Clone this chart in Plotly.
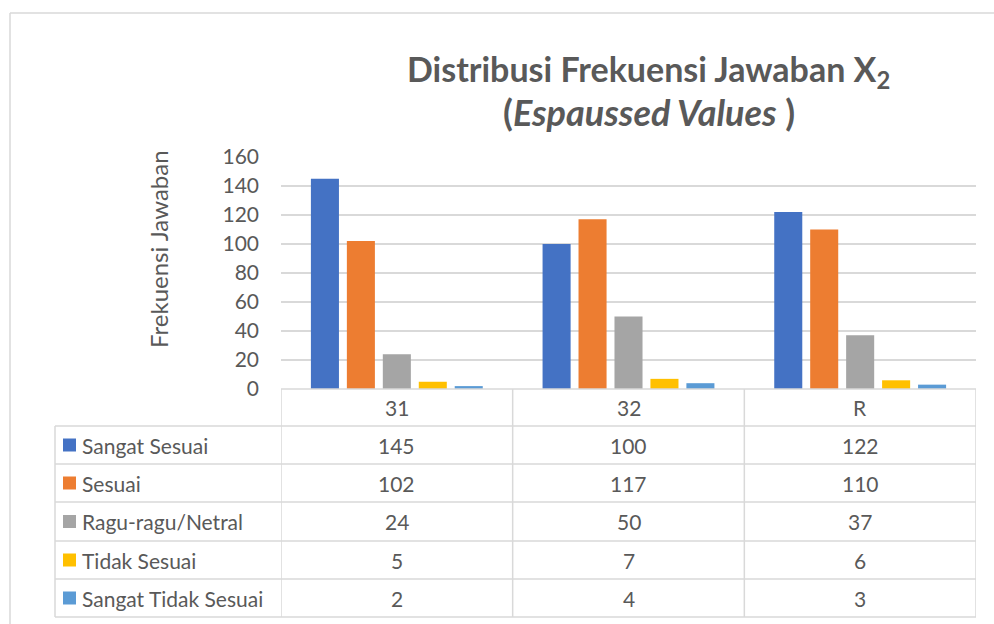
import plotly.graph_objects as go

categories = ["31", "32", "R"]
series_names = ["Sangat Sesuai", "Sesuai", "Ragu-ragu/Netral", "Tidak Sesuai", "Sangat Tidak Sesuai"]
sangat_sesuai = [145, 100, 122]
sesuai = [102, 117, 110]
ragu = [24, 50, 37]
tidak_sesuai = [5, 7, 6]
sangat_tidak_sesuai = [2, 4, 3]
series_values = [sangat_sesuai, sesuai, ragu, tidak_sesuai, sangat_tidak_sesuai]
colors = ["#4472C4", "#ED7D31", "#A5A5A5", "#FFC000", "#5B9BD5"]
y_ticks = [0, 20, 40, 60, 80, 100, 120, 140, 160]

W, H = 994, 624
L, R, T, B = 281, 976, 157, 389  # plot area in pixels
FONT = "Lato"
TXT = "#595959"
GRID = "#D9D9D9"


def px(x):
    return (x - L) / (R - L)


def py(y):
    return (B - y) / (B - T)


fig = go.Figure()
for name, vals, c in zip(series_names, series_values, colors):
    fig.add_trace(go.Bar(x=categories, y=vals, name=name, marker=dict(color=c, line=dict(width=0))))

shapes = []
annotations = []

# outer chart border (top and left visible)
shapes.append(dict(type="line", xref="paper", yref="paper", x0=px(10), x1=px(1000), y0=py(13), y1=py(13),
                   line=dict(color=GRID, width=1.5), layer="below"))
shapes.append(dict(type="line", xref="paper", yref="paper", x0=px(10), x1=px(10), y0=py(13), y1=py(700),
                   line=dict(color=GRID, width=1.5), layer="below"))

# table
row_bounds = [389, 426, 464, 502, 541, 579, 617]
shapes.append(dict(type="line", xref="paper", yref="paper", x0=0, x1=1, y0=py(389), y1=py(389),
                   line=dict(color=GRID, width=1.5)))
for yb in row_bounds[1:]:
    shapes.append(dict(type="line", xref="paper", yref="paper", x0=px(55), x1=1, y0=py(yb), y1=py(yb),
                       line=dict(color=GRID, width=1.5)))
for i in range(len(categories) + 1):
    shapes.append(dict(type="line", xref="x", yref="paper", x0=i - 0.5, x1=i - 0.5, y0=py(389),
                       y1=py(row_bounds[-1]), line=dict(color=GRID, width=1.5)))
shapes.append(dict(type="line", xref="paper", yref="paper", x0=px(55), x1=px(55), y0=py(426),
                   y1=py(row_bounds[-1]), line=dict(color=GRID, width=1.5)))

TFS = 21
hc = (row_bounds[0] + row_bounds[1]) / 2
for i, cat in enumerate(categories):
    annotations.append(dict(x=i, xref="x", y=py(hc), yref="paper", text=cat, showarrow=False,
                            font=dict(family=FONT, size=TFS, color=TXT), xanchor="center", yanchor="middle"))
for r, (name, vals, c) in enumerate(zip(series_names, series_values, colors)):
    yc = (row_bounds[r + 1] + row_bounds[r + 2]) / 2
    shapes.append(dict(type="rect", xref="paper", yref="paper", x0=px(63), x1=px(76), y0=py(yc - 6.5),
                       y1=py(yc + 6.5), fillcolor=c, line=dict(width=0)))
    annotations.append(dict(x=px(80), xref="paper", y=py(yc), yref="paper", text=name, showarrow=False,
                            font=dict(family=FONT, size=TFS, color=TXT), xanchor="left", yanchor="middle"))
    for i, v in enumerate(vals):
        annotations.append(dict(x=i, xref="x", y=py(yc), yref="paper", text=str(v), showarrow=False,
                                font=dict(family=FONT, size=TFS, color=TXT), xanchor="center", yanchor="middle"))

# title
annotations.append(dict(x=px(648), xref="paper", y=py(71), yref="paper",
                        text="<b>Distribusi Frekuensi Jawaban X<sub>2</sub></b>", showarrow=False,
                        font=dict(family=FONT, size=34, color=TXT), xanchor="center", yanchor="middle"))
annotations.append(dict(x=px(649), xref="paper", y=py(112), yref="paper",
                        text="<b>(<i>Espaussed Values</i> )</b>", showarrow=False,
                        font=dict(family=FONT, size=36, color=TXT), xanchor="center", yanchor="middle"))
# y-axis title
annotations.append(dict(x=px(158), xref="paper", y=py(249), yref="paper", text="Frekuensi Jawaban",
                        textangle=-90, showarrow=False, font=dict(family=FONT, size=24, color=TXT),
                        xanchor="center", yanchor="middle"))

fig.update_layout(
    width=W, height=H,
    margin=dict(l=L, r=W - R, t=T, b=H - B, pad=0),
    paper_bgcolor="white", plot_bgcolor="white",
    showlegend=False,
    barmode="group", bargap=0.224, bargroupgap=0.22,
    xaxis=dict(type="category", range=[-0.5, 2.5], showticklabels=False, showgrid=False, zeroline=False,
               showline=False, ticks=""),
    yaxis=dict(range=[0, 160], tickvals=y_ticks, showgrid=True, gridcolor=GRID, gridwidth=1.5,
               zeroline=False, showline=False, ticks="", ticklabelstandoff=21,
               tickfont=dict(family=FONT, size=21, color=TXT)),
    shapes=shapes, annotations=annotations,
)

fig.write_html(
    "out.html",
    config={"displayModeBar": False},
    post_script="document.body.style.margin='0';document.body.style.overflow='hidden';"
                "document.documentElement.style.overflow='hidden';",
)
